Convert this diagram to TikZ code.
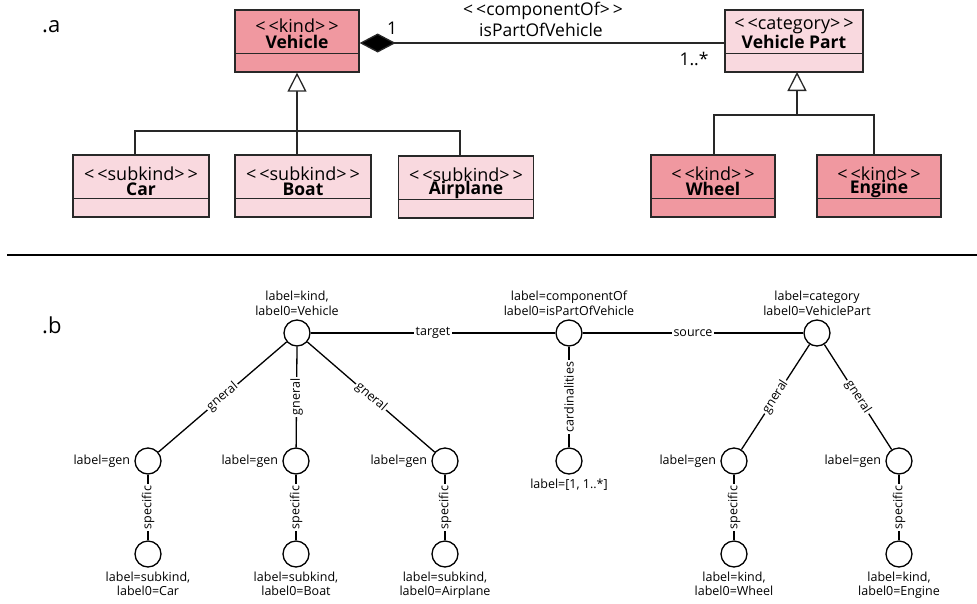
\documentclass[tikz,border=0pt]{standalone}
\usepackage{fontspec}
\setmainfont{Open Sans}
\usetikzlibrary{arrows.meta,positioning}
\definecolor{kindc}{RGB}{240,152,160}
\definecolor{subc}{RGB}{249,217,223}
\definecolor{lc}{RGB}{40,40,40}
\newcommand\stl{<\kern3pt<}
\newcommand\str{>\kern3pt>}
\begin{document}
\begin{tikzpicture}[x=1pt,y=-1pt,
  umlbox/.style={draw=lc, line width=1.3pt, rectangle, inner sep=0pt, minimum height=62pt},
  stereo/.style={font=\fontsize{18}{20}\selectfont, inner sep=0pt},
  bname/.style={font=\bfseries\fontsize{17.5}{20}\selectfont, inner sep=0pt},
  atext/.style={font=\fontsize{17.5}{20}\selectfont, inner sep=0pt},
  uline/.style={draw=lc, line width=1.3pt},
  circ/.style={circle, draw, line width=1.3pt, minimum size=26pt, inner sep=0pt},
  lab/.style={font=\fontsize{12.5}{14.5}\selectfont, inner sep=0pt, align=center},
  elab/.style={font=\fontsize{12.5}{14}\selectfont, fill=white, inner sep=1.5pt},
  gedge/.style={line width=1.3pt},
  seclab/.style={font=\fontsize{22}{26}\selectfont, inner sep=0pt, anchor=base west}
]
\useasboundingbox (0,0) rectangle (977,603);

% ---------- part a ----------
\node[seclab] (la) at (42,32) {.a};

% boxes
\node[umlbox, fill=kindc, minimum width=124pt] (veh) at (297,41) {};
\node[umlbox, fill=subc, minimum width=138pt] (vp) at (794,41) {};
\node[umlbox, fill=subc, minimum width=136pt] (car) at (141,186) {};
\node[umlbox, fill=subc, minimum width=136pt] (boat) at (303,186) {};
\node[umlbox, fill=subc, minimum width=135pt] (air) at (466,187) {};
\node[umlbox, fill=kindc, minimum width=124pt] (wheel) at (713,186) {};
\node[umlbox, fill=kindc, minimum width=124pt] (engine) at (879,186) {};

\foreach \b in {veh,vp,car,boat,air,wheel,engine}{
  \draw[uline] ([yshift=-44pt]\b.north west) -- ([yshift=-44pt]\b.north east);
}

\node[stereo] (vehs) at ([yshift=-16pt]veh.north) {\stl kind\str};
\node[bname] (vehn) at ([yshift=-33pt]veh.north) {Vehicle};
\node[stereo] (vps) at ([yshift=-16pt]vp.north) {\stl category\str};
\node[bname] (vpn) at ([yshift=-33pt]vp.north) {Vehicle Part};
\node[stereo] (cars) at ([yshift=-19pt]car.north) {\stl subkind\str};
\node[bname] (carn) at ([yshift=-35pt]car.north) {Car};
\node[stereo] (boats) at ([yshift=-19pt]boat.north) {\stl subkind\str};
\node[bname] (boatn) at ([yshift=-35pt]boat.north) {Boat};
\node[stereo] (airs) at ([yshift=-19pt]air.north) {\stl subkind\str};
\node[bname] (airn) at ([yshift=-35pt]air.north) {Airplane};
\node[stereo] (wheels) at ([yshift=-19pt]wheel.north) {\stl kind\str};
\node[bname] (wheeln) at ([yshift=-35pt]wheel.north) {Wheel};
\node[stereo] (engines) at ([yshift=-19pt]engine.north) {\stl kind\str};
\node[bname] (enginen) at ([yshift=-35pt]engine.north) {Engine};

% composition
\draw[uline, -{Diamond[length=36pt,width=19pt,fill=black]}] (vp.west |- 0,43) -- (veh.east |- 0,43);
\node[atext] (one) at (392,28) {1};
\node[atext] (many) at (694,59) {1..*};
\node[atext] (assoc1) at (543,11) {\stl componentOf\str};
\node[atext] (assoc2) at (541,30) {isPartOfVehicle};

% generalizations (Vehicle)
\coordinate (busL) at (135,131);
\coordinate (busR) at (460,131);
\draw[uline] (car.north -| busL) -- (busL) -- (busR) -- (air.north -| busR);
\draw[uline, -{Triangle[open,length=19pt,width=19pt,fill=white]}] (boat.north -| veh.south) -- (veh.south);

% generalizations (Vehicle Part)
\coordinate (bus2L) at (714,115);
\coordinate (bus2R) at (874,115);
\coordinate (tri2) at (797,72);
\draw[uline] (wheel.north -| bus2L) -- (bus2L) -- (bus2R) -- (engine.north -| bus2R);
\draw[uline, -{Triangle[open,length=19pt,width=19pt,fill=white]}] (bus2L -| tri2) -- (tri2);

% separator
\draw[line width=1.3pt] (7,255) -- (977,255);

% ---------- part b ----------
\node[seclab] (lb) at (42,333) {.b};

\node[circ] (v) at (297,333) {};
\node[circ] (c) at (569,333) {};
\node[circ] (p) at (817,333) {};

\node[circ] (g1) at (148,461) {};
\node[circ] (g2) at (296,461) {};
\node[circ] (g3) at (445,461) {};
\node[circ] (cd) at (569,461) {};
\node[circ] (g4) at (734,461) {};
\node[circ] (g5) at (899,461) {};

\node[circ] (s1) at (148,554) {};
\node[circ] (s2) at (296,554) {};
\node[circ] (s3) at (445,554) {};
\node[circ] (s4) at (734,554) {};
\node[circ] (s5) at (899,554) {};

\node[lab, anchor=south] (vl) at ([yshift=4pt]v.north) {label=kind,\\label0=Vehicle};
\node[lab, anchor=south] (cl) at ([yshift=4pt]c.north) {label=componentOf\\label0=isPartOfVehicle};
\node[lab, anchor=south] (pl) at ([yshift=4pt]p.north) {label=category\\label0=VehiclePart};

\foreach \g in {g1,g2,g3,g4,g5}{
  \node[lab, anchor=east] (\g l) at ([xshift=-4pt]\g.west) {label=gen};
}
\node[lab, anchor=north] (cdl) at ([yshift=-4pt]cd.south) {label=[1, 1..*]};

\node[lab, anchor=north] (s1l) at ([yshift=-4pt]s1.south) {label=subkind,\\label0=Car};
\node[lab, anchor=north] (s2l) at ([yshift=-4pt]s2.south) {label=subkind,\\label0=Boat};
\node[lab, anchor=north] (s3l) at ([yshift=-4pt]s3.south) {label=subkind,\\label0=Airplane};
\node[lab, anchor=north] (s4l) at ([yshift=-4pt]s4.south) {label=kind,\\label0=Wheel};
\node[lab, anchor=north] (s5l) at ([yshift=-4pt]s5.south) {label=kind,\\label0=Engine};

\draw[gedge] (v) -- node[elab]{target} (c);
\draw[gedge] (c) -- node[elab]{source} (p);
\draw[gedge] (c) -- node[elab, rotate=90]{cardinalities} (cd);

\draw[gedge] (v) -- node[elab, sloped]{gneral} (g1);
\draw[gedge] (v.south) -- node[elab, rotate=90]{gneral} (g2);
\draw[gedge] (v) -- node[elab, sloped]{gneral} (g3);
\draw[gedge] (p) -- node[elab, sloped]{gneral} (g4);
\draw[gedge] (p) -- node[elab, sloped]{gneral} (g5);

\draw[gedge] (g1) -- node[elab, rotate=90]{specific} (s1);
\draw[gedge] (g2) -- node[elab, rotate=90]{specific} (s2);
\draw[gedge] (g3) -- node[elab, rotate=90]{specific} (s3);
\draw[gedge] (g4) -- node[elab, rotate=90]{specific} (s4);
\draw[gedge] (g5) -- node[elab, rotate=90]{specific} (s5);
\end{tikzpicture}
\end{document}
